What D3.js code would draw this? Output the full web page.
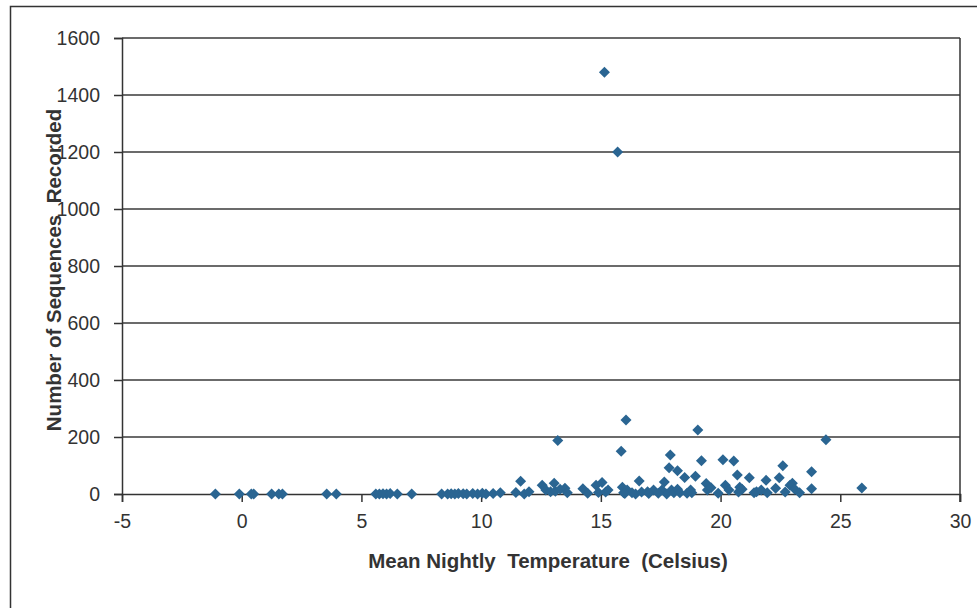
<!DOCTYPE html>
<html lang="en">
<head>
<meta charset="utf-8">
<title>Sequences vs temperature</title>
<script src="https://d3js.org/d3.v7.min.js"></script>
<style>
  body { margin: 0; background: #fff; overflow: hidden; }
  svg { display: block; }
  text { font-family: Arial, "Liberation Sans", sans-serif; fill: #333; }
</style>
</head>
<body>
<div id="chart"></div>
<script>
// mean nightly temperature (C) and number of sequences recorded
const temps = [
  -1.1, -0.1, 0.4, 0.5, 1.25, 1.55, 1.7, 3.55, 3.95, 5.6,
  5.75, 5.9, 6.05, 6.2, 6.5, 7.1, 8.35, 8.6, 8.75, 8.9,
  9.05, 9.25, 9.4, 9.65, 9.85, 10.05, 10.2, 10.5, 10.8, 11.45,
  11.65, 11.8, 12.0, 12.55, 12.7, 12.9, 13.05, 13.1, 13.2, 13.3,
  13.5, 13.6, 14.25, 14.45, 14.8, 14.9, 15.05, 15.15, 15.2, 15.3,
  15.7, 15.85, 15.9, 15.95, 16.05, 16.1, 16.3, 16.45, 16.6, 16.7,
  16.95, 17.2, 17.55, 17.65, 17.75, 17.85, 17.9, 17.95, 18.05, 18.2,
  18.2, 18.3, 18.5, 18.75, 18.8, 18.95, 19.05, 19.2, 19.4, 19.45,
  19.6, 20.1, 20.2, 20.35, 20.55, 20.7, 20.75, 20.8, 20.9, 21.2,
  21.4, 21.5, 21.7, 21.9, 21.95, 22.3, 22.45, 22.6, 22.7, 22.9,
  23.0, 23.1, 23.3, 23.8, 23.8, 24.4, 25.9, 16.0, 17.0, 17.4,
  18.6, 19.9
];
const counts = [
  0, 0, 0, 0, 0, 0, 0, 0, 0, 0,
  0, 1, 0, 2, 0, 0, 0, 0, 1, 0,
  2, 1, 0, 2, 0, 3, 0, 2, 4, 5,
  45, 0, 8, 31, 14, 8, 38, 10, 188, 17,
  20, 4, 18, 3, 31, 5, 40, 1480, 7, 14,
  1200, 150, 24, 4, 260, 14, 4, 0, 46, 7,
  8, 14, 14, 42, 0, 92, 137, 14, 4, 82,
  17, 4, 58, 14, 4, 62, 225, 117, 37, 14,
  22, 120, 31, 14, 116, 67, 7, 24, 17, 57,
  4, 8, 14, 48, 4, 20, 57, 99, 7, 31,
  38, 17, 4, 78, 18, 190, 21, 2, 2, 3,
  3, 3
];
const xTicks = [-5, 0, 5, 10, 15, 20, 25, 30];
const yTicks = [0, 200, 400, 600, 800, 1000, 1200, 1400, 1600];

const width = 977, height = 608;
const svg = d3.select('#chart').append('svg')
  .attr('width', width)
  .attr('height', height);

// outer chart border (right and bottom fall outside the picture)
svg.append('rect')
  .attr('x', 10.5).attr('y', 6.5)
  .attr('width', 980).attr('height', 610)
  .attr('fill', 'none')
  .attr('stroke', '#333')
  .attr('stroke-width', 1.5);

const x = d3.scaleLinear().domain([-5, 30]).range([122, 960]);
const y = d3.scaleLinear().domain([0, 1600]).range([494, 38]);

// horizontal gridlines
svg.append('g')
  .selectAll('line')
  .data(yTicks.filter(d => d > 0))
  .join('line')
  .attr('x1', x(-5)).attr('x2', x(30))
  .attr('y1', d => y(d)).attr('y2', d => y(d))
  .attr('stroke', '#3a3a3a')
  .attr('stroke-width', 1.5);

const xAxis = svg.append('g')
  .attr('transform', `translate(0,${y(0)})`)
  .call(d3.axisBottom(x).tickValues(xTicks).tickSize(8).tickPadding(12).tickFormat(d => String(d)));
const yAxis = svg.append('g')
  .attr('transform', `translate(${x(-5)},0)`)
  .call(d3.axisLeft(y).tickValues(yTicks).tickSize(8).tickPadding(14).tickFormat(d => String(d)));

[xAxis, yAxis].forEach(g => {
  g.select('.domain').attr('stroke', '#333').attr('stroke-width', 1.5);
  g.selectAll('.tick line').attr('stroke', '#333').attr('stroke-width', 1.5);
  g.selectAll('.tick text')
    .attr('font-size', 19.5)
    .attr('font-family', 'Arial, "Liberation Sans", sans-serif')
    .attr('fill', '#333');
});

// plot area right edge
svg.append('line')
  .attr('x1', x(30)).attr('x2', x(30))
  .attr('y1', y(1600)).attr('y2', y(0) + 8)
  .attr('stroke', '#333')
  .attr('stroke-width', 1.5);

// diamonds
const pts = temps.map((t, i) => ({ t: t, n: counts[i] }));
const r = 5.5;
svg.append('g')
  .selectAll('path')
  .data(pts)
  .join('path')
  .attr('d', `M0,${-r}L${r},0L0,${r}L${-r},0Z`)
  .attr('transform', d => `translate(${x(d.t)},${y(d.n)})`)
  .attr('fill', '#2a6592');

svg.append('text')
  .attr('x', 548).attr('y', 568)
  .attr('text-anchor', 'middle')
  .attr('font-size', 20.5)
  .attr('font-weight', 'bold')
  .style('white-space', 'pre')
  .text('Mean Nightly  Temperature  (Celsius)');

svg.append('text')
  .attr('transform', 'translate(61,270) rotate(-90)')
  .attr('text-anchor', 'middle')
  .attr('font-size', 20.5)
  .attr('font-weight', 'bold')
  .style('white-space', 'pre')
  .text('Number of Sequences  Recorded');
</script>
</body>
</html>
